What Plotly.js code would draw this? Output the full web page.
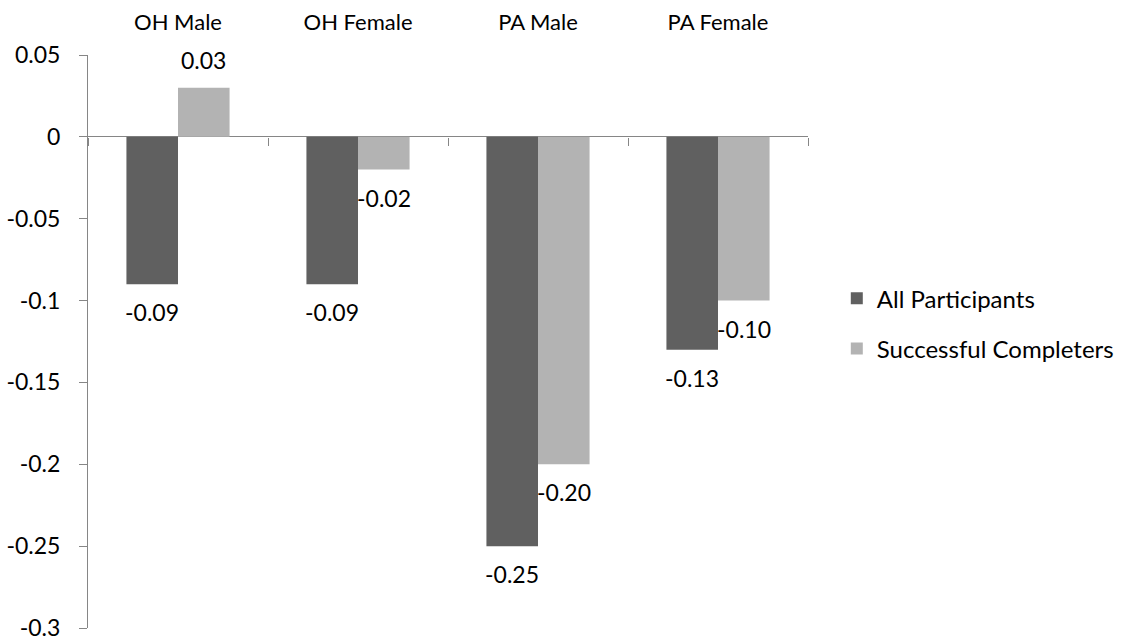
<!DOCTYPE html>
<html>
<head>
<meta charset="utf-8">
<script src="https://cdn.plot.ly/plotly-3.0.1.min.js"></script>
<style>html,body{margin:0;padding:0;background:#fff;}#chart{width:1124px;height:643px;}</style>
</head>
<body>
<div id="chart"></div>
<script>
var categories = ["OH Male", "OH Female", "PA Male", "PA Female"];
var allParticipants = [-0.09, -0.09, -0.25, -0.13];
var successfulCompleters = [0.03, -0.02, -0.20, -0.10];
var seriesNames = ["All Participants", "Successful Completers"];
var yTickVals = [0.05, 0, -0.05, -0.1, -0.15, -0.2, -0.25, -0.3];
var yTickText = ["0.05", "0", "-0.05", "-0.1", "-0.15", "-0.2", "-0.25", "-0.3"];

var FONT = "Lato, 'Open Sans', sans-serif";
var colors = ["#606060", "#b3b3b3"];
var bargap = 0.427;
var series = [allParticipants, successfulCompleters];

var traces = series.map(function (vals, s) {
  return {
    type: "bar",
    x: categories,
    y: vals,
    name: seriesNames[s],
    legendgroup: "g" + s,
    marker: {color: colors[s], line: {width: 0}},
    hoverinfo: "x+y+name"
  };
});
// helper trace so the boundary-tick axis at the zero line is drawn
traces.push({
  type: "scatter", mode: "markers",
  x: [0], y: [0], xaxis: "x2", yaxis: "y",
  marker: {opacity: 0, size: 1},
  showlegend: false, hoverinfo: "skip"
});

var annotations = [];
var half = (1 - bargap) / 4;
series.forEach(function (vals, s) {
  vals.forEach(function (v, i) {
    annotations.push({
      x: i + (s === 0 ? -half : half),
      y: v,
      xref: "x", yref: "y",
      text: v.toFixed(2),
      showarrow: false,
      yshift: v < 0 ? -28 : 28,
      font: {family: FONT, size: 23, color: "#000"}
    });
  });
});

var layout = {
  width: 1124, height: 643,
  margin: {l: 88, r: 316, t: 55, b: 15, autoexpand: false},
  paper_bgcolor: "#fff", plot_bgcolor: "#fff",
  barmode: "group",
  bargap: bargap,
  bargroupgap: 0,
  font: {family: FONT, size: 22, color: "#000"},
  xaxis: {
    type: "category",
    side: "top",
    anchor: "y",
    showline: false,
    showgrid: false,
    zeroline: false,
    ticks: "",
    ticklabelstandoff: 20,
    tickfont: {family: FONT, size: 22, color: "#000"}
  },
  xaxis2: {
    overlaying: "x",
    type: "linear",
    range: [-0.5, categories.length - 0.5],
    anchor: "free",
    position: 0.3 / 0.35,
    side: "bottom",
    tickvals: categories.map(function (c, i) { return i - 0.5; }).concat([categories.length - 0.5]),
    showticklabels: false,
    ticks: "outside",
    ticklen: 8,
    tickcolor: "#868686",
    tickwidth: 1,
    showline: false,
    showgrid: false,
    zeroline: false
  },
  yaxis: {
    range: [-0.3, 0.05],
    tickvals: yTickVals,
    ticktext: yTickText,
    showline: true,
    linecolor: "#868686",
    linewidth: 1,
    ticks: "outside",
    ticklen: 8,
    tickcolor: "#868686",
    showgrid: false,
    zeroline: true,
    zerolinecolor: "#868686",
    zerolinewidth: 1,
    ticklabelstandoff: 14,
    tickfont: {family: FONT, size: 23, color: "#000"}
  },
  showlegend: true,
  legend: {
    x: 1.04, y: 0.531, xanchor: "left", yanchor: "middle",
    font: {family: FONT, size: 24, color: "#000"},
    tracegroupgap: 16,
    traceorder: "grouped"
  },
  annotations: annotations
};

Plotly.newPlot("chart", traces, layout, {staticPlot: true});
</script>
</body>
</html>
